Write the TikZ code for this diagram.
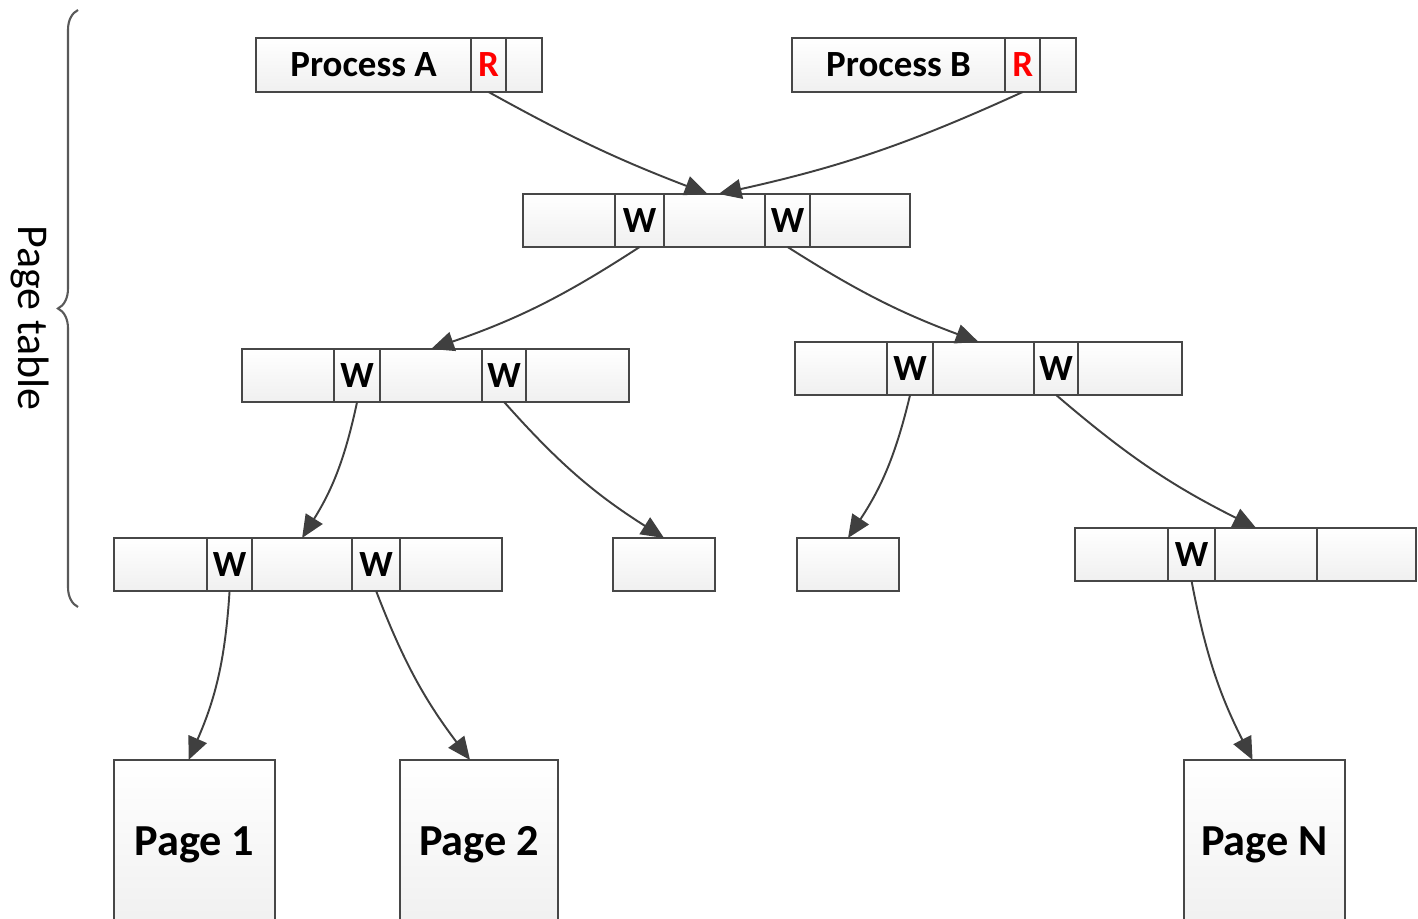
\documentclass[tikz,border=0pt]{standalone}
\usepackage{fontspec}
\setmainfont{Carlito}
\usepackage{xcolor}
\usepackage{tikz}
\usetikzlibrary{positioning, arrows.meta, decorations.pathreplacing}

\definecolor{edge}{HTML}{474747}
\definecolor{lnc}{HTML}{3F3F3F}

\begin{document}
\begin{tikzpicture}[
  x=0.01cm, y=-0.01cm,
  cell/.style={draw=edge, line width=0.6pt, top color=white, bottom color=gray!12,
               minimum height=0.53cm, inner sep=0pt, outer sep=0pt,
               font=\fontsize{10.5}{12}\selectfont\bfseries},
  pcell/.style={cell, minimum height=0.54cm},
  page/.style={cell, minimum height=1.7cm, font=\fontsize{12.6}{15}\selectfont\bfseries},
  arr/.style={-{Triangle[length=6.5pt,width=5.6pt]}, line width=0.55pt, lnc},
  brc/.style={decorate, decoration={brace, amplitude=0.2cm}, gray!70!black, line width=0.6pt}
]
\useasboundingbox (0,0) rectangle (1418,919);
% processes
\node[pcell, anchor=north west, minimum width=2.15cm] (pa) at (256,38) {Process A};
\node[pcell, minimum width=0.35cm, text=red, right=0pt of pa] (paR) {R};
\node[pcell, minimum width=0.36cm, right=0pt of paR] (paX) {};
\node[pcell, anchor=north west, minimum width=2.13cm] (pb) at (792,38) {Process B};
\node[pcell, minimum width=0.35cm, text=red, right=0pt of pb] (pbR) {R};
\node[pcell, minimum width=0.36cm, right=0pt of pbR] (pbX) {};
% root table
\node[cell, anchor=north west, minimum width=0.92cm] (r1) at (523,194) {};
\node[cell, minimum width=0.49cm, right=0pt of r1] (r2) {W};
\node[cell, minimum width=1.01cm, right=0pt of r2] (r3) {};
\node[cell, minimum width=0.45cm, right=0pt of r3] (r4) {W};
\node[cell, minimum width=1.00cm, right=0pt of r4] (r5) {};
% second level
\node[cell, anchor=north west, minimum width=0.92cm] (a1) at (242,349) {};
\node[cell, minimum width=0.46cm, right=0pt of a1] (a2) {W};
\node[cell, minimum width=1.02cm, right=0pt of a2] (a3) {};
\node[cell, minimum width=0.44cm, right=0pt of a3] (a4) {W};
\node[cell, minimum width=1.03cm, right=0pt of a4] (a5) {};
\node[cell, anchor=north west, minimum width=0.92cm] (b1) at (795,342) {};
\node[cell, minimum width=0.46cm, right=0pt of b1] (b2) {W};
\node[cell, minimum width=1.01cm, right=0pt of b2] (b3) {};
\node[cell, minimum width=0.44cm, right=0pt of b3] (b4) {W};
\node[cell, minimum width=1.04cm, right=0pt of b4] (b5) {};
% third level
\node[cell, anchor=north west, minimum width=0.93cm] (c1) at (114,538) {};
\node[cell, minimum width=0.45cm, right=0pt of c1] (c2) {W};
\node[cell, minimum width=1.00cm, right=0pt of c2] (c3) {};
\node[cell, minimum width=0.48cm, right=0pt of c3] (c4) {W};
\node[cell, minimum width=1.02cm, right=0pt of c4] (c5) {};
\node[cell, anchor=north west, minimum width=1.02cm] (s1) at (613,538) {};
\node[cell, anchor=north west, minimum width=1.02cm] (s2) at (797,538) {};
\node[cell, anchor=north west, minimum width=0.93cm] (d1) at (1075,528) {};
\node[cell, minimum width=0.47cm, right=0pt of d1] (d2) {W};
\node[cell, minimum width=1.02cm, right=0pt of d2] (d3) {};
\node[cell, minimum width=0.99cm, right=0pt of d3] (d4) {};
% pages
\node[page, anchor=north west, minimum width=1.61cm] (p1) at (114,760) {Page 1};
\node[page, anchor=north west, minimum width=1.58cm] (p2) at (400,760) {Page 2};
\node[page, anchor=north west, minimum width=1.61cm] (pn) at (1184,760) {Page N};
% links
\draw[arr] (paR.south) to[bend right=4] ([xshift=-0.07cm]r3.north);
\draw[arr] (pbR.south) to[bend left=6] ([xshift=0.04cm]r3.north);
\draw[arr] (r2.south) to[bend left=7] (a3.north);
\draw[arr] (r4.south) to[bend right=6] ([xshift=-0.05cm]b3.north);
\draw[arr] (a2.south) to[bend left=10] (c3.north);
\draw[arr] (a4.south) to[bend right=8] (s1.north);
\draw[arr] (b2.south) to[bend left=10] (s2.north);
\draw[arr] (b4.south) to[bend right=7] ([xshift=-0.1cm]d3.north);
\draw[arr] (c2.south) to[bend left=10] ([xshift=-0.06cm]p1.north);
\draw[arr] (c4.south) to[bend right=8] ([xshift=-0.09cm]p2.north);
\draw[arr] (d2.south) to[bend right=8] ([xshift=-0.12cm]pn.north);
% page table brace
\draw[brc] (78,607) -- (78,10);
\node[rotate=-90, font=\fontsize{12.5}{15}\selectfont] (ptlabel) at (30,318) {Page table};
\end{tikzpicture}
\end{document}
